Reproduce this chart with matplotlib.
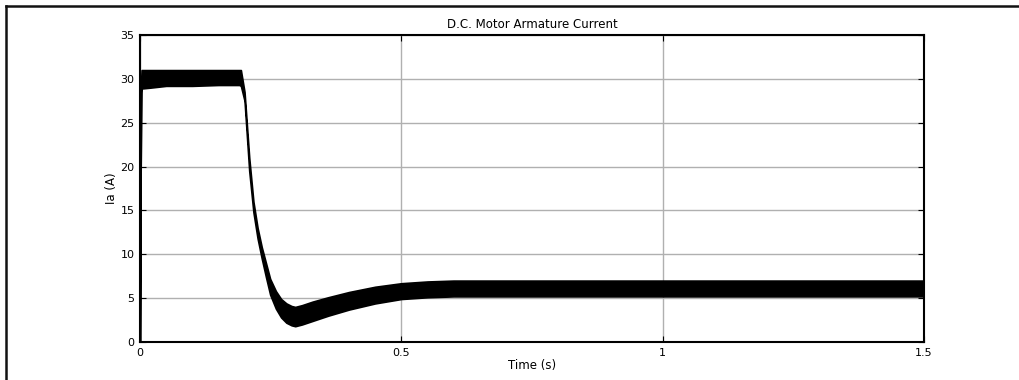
import numpy as np
import matplotlib.pyplot as plt
from matplotlib.lines import Line2D

plt.rcParams['font.family'] = ['DejaVu Sans']

# envelope of the chopped armature current
t_env = [0.0, 0.001, 0.003, 0.02, 0.05, 0.10, 0.15, 0.190, 0.193, 0.200, 0.209,
         0.217, 0.225, 0.233, 0.241, 0.249, 0.260, 0.270, 0.280, 0.290, 0.297,
         0.310, 0.330, 0.360, 0.400, 0.450, 0.500, 0.550, 0.600, 0.700, 0.900,
         1.200, 1.500]
ia_upper = [0.0, 28.0, 31.0, 31.0, 31.0, 31.0, 31.0, 31.0, 31.0, 28.5, 21.0,
            16.0, 13.0, 10.8, 9.0, 7.2, 5.8, 4.9, 4.4, 4.1, 4.0,
            4.2, 4.6, 5.1, 5.7, 6.3, 6.7, 6.9, 7.0, 7.0, 7.0,
            7.0, 7.0]
ia_lower = [0.0, 18.0, 28.9, 29.0, 29.2, 29.2, 29.3, 29.3, 29.2, 27.5, 19.5,
            14.8, 11.8, 9.5, 7.4, 5.4, 3.8, 2.8, 2.2, 1.9, 1.8,
            2.0, 2.4, 3.0, 3.7, 4.4, 4.9, 5.1, 5.2, 5.2, 5.2,
            5.2, 5.2]

x_ticks = [0, 0.5, 1, 1.5]
x_labels = ['0', '0.5', '1', '1.5']
y_ticks = [0, 5, 10, 15, 20, 25, 30, 35]

fig = plt.figure(figsize=(10.2, 3.8), dpi=100)
ax = fig.add_axes([140 / 1020, 1 - 342 / 380, 784 / 1020, 307 / 380])

ax.fill_between(t_env, ia_lower, ia_upper, color='black', linewidth=1.2,
                edgecolor='black', zorder=3)

ax.set_xlim(0, 1.5)
ax.set_ylim(0, 35)
ax.set_xticks(x_ticks)
ax.set_xticklabels(x_labels)
ax.set_yticks(y_ticks)
ax.grid(True, color='#b0b0b0', linewidth=1.0, linestyle='-')
ax.set_axisbelow(True)
ax.tick_params(direction='in', top=True, right=True, length=4, width=0.8,
               labelsize=8, pad=4)
for s in ax.spines.values():
    s.set_linewidth(1.5)

ax.set_title('D.C. Motor Armature Current', fontsize=8.5, pad=5)
ax.set_xlabel('Time (s)', fontsize=8.5, labelpad=1)
ax.set_ylabel('Ia (A)', fontsize=8.5, labelpad=2)

# outer frame (left and top edges only)
fig.add_artist(Line2D([6 / 1020, 6 / 1020], [0, 1 - 6 / 380],
                      transform=fig.transFigure, color='#111111', linewidth=1.8))
fig.add_artist(Line2D([6 / 1020, 1], [1 - 6 / 380, 1 - 6 / 380],
                      transform=fig.transFigure, color='#111111', linewidth=1.8))

fig.savefig('out.png', dpi=100)
